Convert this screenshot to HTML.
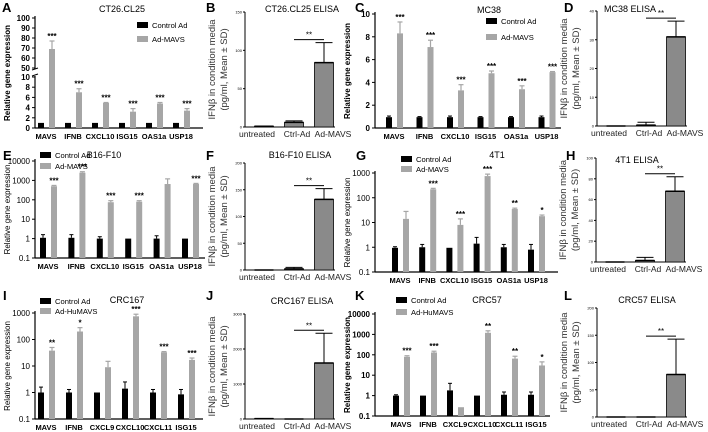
<!DOCTYPE html>
<html><head><meta charset="utf-8"><style>
html,body{margin:0;padding:0;background:#fff}
svg{display:block;font-family:"Liberation Sans",sans-serif}
</style></head><body>
<svg id="fig" width="708" height="432" viewBox="0 0 708 432" xmlns="http://www.w3.org/2000/svg"></svg>
<script>
// ---- data ----
const genesA = ["MAVS","IFNB","CXCL10","ISG15","OAS1a","USP18"];
const ctrlA = [1,1,1,1,1,1];
const ctrlErrA = [1.05,1.05,1.05,1.05,1.05,1.05];
const trtA = [69,7,4.9,3.2,4.8,3.4];
const trtErrA = [77,7.7,5,3.8,5,3.8];
const sigA = ["***","***","***","***","***","***"];

const elisaCats = ["untreated","Ctrl-Ad","Ad-MAVS"];
const elisaB = [1,6,84]; const elisaErrB = [1,8,110];

const ctrlC = [0.95,0.95,0.95,0.95,0.95,0.95];
const ctrlErrC = [1.05,1.0,1.05,1.0,1.0,1.05];
const trtC = [8.3,7.1,3.3,4.8,3.4,4.9];
const trtErrC = [9.3,7.7,3.8,5.0,3.7,4.95];
const sigC = ["***","***","***","***","***","***"];
const elisaD = [0,0.3,31]; const elisaErrD = [0,1.3,36.5];

const ctrlE = [1.1,1.1,1.0,1.0,1.0,1.0];
const ctrlErrE = [1.6,1.6,1.25,1.05,1.4,1.05];
const trtE = [500,2500,75,80,650,650];
const trtErrE = [550,2800,90,90,1200,700];
const sigE = ["***","***","***","***","","***"];
const elisaF = [0,2,132]; const elisaErrF = [0,5,152];

const ctrlG = [0.95,1.0,0.95,1.4,1.0,0.8];
const ctrlErrG = [1.05,1.3,0.95,2.5,1.3,1.3];
const trtG = [14,220,8,750,35,18];
const trtErrG = [28,240,14,900,38,20];
const sigG = ["","***","***","***","**","*"];
const elisaH = [0,1.5,68]; const elisaErrH = [0,4.5,82];

const genesI = ["MAVS","IFNB","CXCL9","CXCL10","CXCL11","ISG15"];
const ctrlI = [1,1,1,1.4,1,0.85];
const ctrlErrI = [1.6,1.3,1,2.5,1.3,1.3];
const trtI = [38,200,9,750,33,17];
const trtErrI = [50,280,15,900,35,20];
const sigI = ["**","*","","***","***","***"];
const elisaJ = [10,0,1600]; const elisaErrJ = [10,0,2450];

const ctrlK = [1,1,1.8,1,1.1,1.1];
const ctrlErrK = [1.1,1,4,1,1.5,1.5];
const trtK = [80,130,0.27,1200,65,30];
const trtErrK = [90,150,0.27,1500,85,45];
const sigK = ["***","***","","**","**","*"];
const elisaL = [0,0,78]; const elisaErrL = [0,0,143];

const linTicksA1 = [0,2,4,6,8,10]; const linTicksA2 = [50,60,70,80,90,100];
const linTicksC = [0,2,4,6,8,10];
const logTicks4 = ["0.1","1","10","100","1000","10000"];
const logTicks3 = ["0.1","1","10","100","1000"];

// ---- helpers ----
const NS="http://www.w3.org/2000/svg";
const svg=document.getElementById('fig');
function mk(tag,attrs,parent,text){const e=document.createElementNS(NS,tag);for(const k in attrs)e.setAttribute(k,attrs[k]);if(text!==undefined)e.textContent=text;(parent||svg).appendChild(e);return e;}
function grp(name){const g=mk('g',{});return g;}

function letter(ch,x,y){const t=mk('text',{x:x,y:y,'font-size':13,'font-weight':'bold'},svg,ch);}

function genePanel(o){
  const g=grp(o.name);
  const yf=o.yf;
  mk('line',{x1:o.ax,y1:o.yTop-2,x2:o.ax,y2:o.yBot,stroke:'#000','stroke-width':1.2},g);
  mk('line',{x1:o.ax,y1:o.yBot,x2:o.xr,y2:o.yBot,stroke:'#000','stroke-width':1.2},g);
  o.ticks.forEach(tv=>{const y=yf(parseFloat(tv));
    mk('line',{x1:o.ax-3,y1:y,x2:o.ax,y2:y,stroke:'#000'},g);
    const t=mk('text',{x:o.ax-5,y:y+3,'font-size':8,'text-anchor':'end','font-weight':o.bold?'bold':'normal'},g,tv);
    });
  const yt=mk('text',{x:0,y:0,'font-size':8,'text-anchor':'middle','font-weight':o.bold?'bold':'normal',transform:`translate(${o.ax-25},${(o.yTop+o.yBot)/2}) rotate(-90)`},g,'Relative gene expression');
  
  o.cats.forEach((c,i)=>{
    const cx=o.c0+i*o.step;
    const bx=cx-5, gx=cx+6, w=6;
    const base=o.yBot;
    const yc=yf(o.ctrl[i]), yce=yf(o.ctrlErr[i]);
    const r1=mk('rect',{x:bx-w/2,y:yc,width:w,height:base-yc,fill:'#000'},g);
    
    if(yce<yc-0.5){mk('line',{x1:bx,y1:yc,x2:bx,y2:yce,stroke:'#000'},g);mk('line',{x1:bx-2,y1:yce,x2:bx+2,y2:yce,stroke:'#000'},g);}
    const yt2=yf(o.trt[i]), yte=yf(o.trtErr[i]);
    const r2=mk('rect',{x:gx-w/2,y:yt2,width:w,height:base-yt2,fill:'#a6a6a6'},g);
    
    if(yte<yt2-0.5){mk('line',{x1:gx,y1:yt2,x2:gx,y2:yte,stroke:'#a6a6a6','stroke-width':1.2},g);mk('line',{x1:gx-2.5,y1:yte,x2:gx+2.5,y2:yte,stroke:'#a6a6a6','stroke-width':1.2},g);}
    if(o.sig[i]){const s=mk('text',{x:gx,y:Math.min(yte,yt2)-2,'font-size':8,'text-anchor':'middle','font-weight':'bold'},g,o.sig[i]);}
    const xl=mk('text',{x:cx,y:o.yBot+11,'font-size':7.5,'text-anchor':'middle','font-weight':'bold'},g,c);
    
  });
  if(o.title){const t=mk('text',{x:o.title[1],y:o.title[2],'font-size':9,'text-anchor':'middle'},g,o.title[0]);}
  const L=o.legend;
  const l1=mk('rect',{x:L[0],y:L[1]-3,width:11,height:6,fill:'#000'},g);
  const t1=mk('text',{x:L[0]+15,y:L[1]+3,'font-size':7.6},g,'Control Ad');
  const l2=mk('rect',{x:L[0],y:L[2]-3,width:11,height:6,fill:'#a6a6a6'},g);
  const t2=mk('text',{x:L[0]+15,y:L[2]+3,'font-size':7.6},g,o.trtName||'Ad-MAVS');
}

function logY(yTop,yBot,decades){return v=>yBot-(Math.log10(Math.max(v,0.1))+1)/decades*(yBot-yTop);}

function elisaPanel(o){
  const g=grp(o.name);
  const yf=v=>o.y0-v/o.max*(o.y0-o.yTop);
  mk('line',{x1:o.ax,y1:o.yTop,x2:o.ax,y2:o.y0,stroke:'#000'},g);
  mk('line',{x1:o.ax,y1:o.y0,x2:o.ax+90,y2:o.y0,stroke:'#000'},g);
  o.ticks.forEach(tv=>{const y=yf(tv);mk('line',{x1:o.ax-2,y1:y,x2:o.ax,y2:y,stroke:'#000'},g);
    const t=mk('text',{x:o.ax-3,y:y+1.5,'font-size':4,'text-anchor':'end'},g,String(tv));});
  const my=(o.yTop+o.y0)/2;
  const a=mk('text',{x:0,y:0,'font-size':9.5,'text-anchor':'middle',fill:'#333',transform:`translate(${o.ax-30},${my}) rotate(-90)`},g,'IFNβ in condition media');
  
  const b=mk('text',{x:0,y:0,'font-size':9.5,'text-anchor':'middle',fill:'#333',transform:`translate(${o.ax-18},${my}) rotate(-90)`},g,'(pg/ml, Mean ± SD)');
  
  const cx=[o.ax+19,o.ax+49,o.ax+79], w=19;
  const lx=[o.ax+12,o.ax+52,o.ax+88];
  elisaCats.forEach((c,i)=>{
    const y=yf(o.vals[i]), ye=yf(o.errs[i]);
    const r=mk('rect',{x:cx[i]-w/2,y:y,width:w,height:o.y0-y,fill:'#8a8a8a',stroke:'#000','stroke-width':0.8},g);
    
    mk('line',{x1:cx[i]-w/2,y1:y,x2:cx[i]+w/2,y2:y,stroke:'#000','stroke-width':1.5},g);
    if(ye<y-0.5){mk('line',{x1:cx[i],y1:y,x2:cx[i],y2:ye,stroke:'#000'},g);mk('line',{x1:cx[i]-w/2+1,y1:ye,x2:cx[i]+w/2-1,y2:ye,stroke:'#000'},g);}
    const t=mk('text',{x:lx[i],y:o.y0+10,'font-size':8.5,'text-anchor':'middle',fill:'#222'},g,c);
    
  });
  const ly=yf(o.errs[2])-3;
  const br=mk('line',{x1:cx[1],y1:ly,x2:cx[2],y2:ly,stroke:'#000'},g);
  const s=mk('text',{x:(cx[1]+cx[2])/2,y:ly-2,'font-size':8,'text-anchor':'middle'},g,'**');
  const tt=mk('text',{x:o.title[1],y:o.title[2],'font-size':9,'text-anchor':'middle'},g,o.title[0]);
}

// ---- panels ----
const yfA=v=>v<=10?128-v/10*51:68-(v-50)/50*50;
genePanel({name:'panel-a-ct26-expression',ax:35,xr:203,yTop:18,yBot:128,yf:yfA,ticks:[...linTicksA1,...linTicksA2].map(String),bold:true,
  cats:genesA,c0:46,step:27,ctrl:ctrlA,ctrlErr:ctrlErrA,trt:trtA,trtErr:trtErrA,sig:sigA,title:['CT26.CL25',122,12],legend:[137,25,39]});
mk('rect',{x:30,y:69,width:10,height:7,fill:'#fff'});
mk('line',{x1:32,y1:70,x2:38,y2:68,stroke:'#000'});mk('line',{x1:32,y1:76,x2:38,y2:74,stroke:'#000'});
elisaPanel({name:'panel-b-ct26-elisa',ax:245,y0:127,yTop:12,max:150,ticks:[0,50,100,150],vals:elisaB,errs:elisaErrB,title:['CT26.CL25  ELISA',302,12]});

genePanel({name:'panel-c-mc38-expression',ax:375,xr:561,yTop:14,yBot:128,yf:v=>128-v/10*114,ticks:linTicksC.map(String),bold:true,
  cats:genesA,c0:394,step:30.5,ctrl:ctrlC,ctrlErr:ctrlErrC,trt:trtC,trtErr:trtErrC,sig:sigC,title:['MC38',489,13],legend:[486,21,37]});
elisaPanel({name:'panel-d-mc38-elisa',ax:597,y0:126,yTop:11,max:40,ticks:[0,10,20,30,40],vals:elisaD,errs:elisaErrD,title:['MC38  ELISA',630,12]});

genePanel({name:'panel-e-b16-expression',ax:35,xr:205,yTop:161,yBot:258,yf:logY(161,258,5),ticks:logTicks4,bold:false,
  cats:genesA,c0:48,step:28.4,ctrl:ctrlE,ctrlErr:ctrlErrE,trt:trtE,trtErr:trtErrE,sig:sigE,title:['B16-F10',104,158],legend:[40,155,166]});
elisaPanel({name:'panel-f-b16-elisa',ax:245,y0:270,yTop:163,max:200,ticks:[0,50,100,150,200],vals:elisaF,errs:elisaErrF,title:['B16-F10  ELISA',300,158]});

genePanel({name:'panel-g-4t1-expression',ax:375,xr:558,yTop:173,yBot:272,yf:logY(173,272,4),ticks:logTicks3,bold:false,
  cats:genesA,c0:400,step:27.2,ctrl:ctrlG,ctrlErr:ctrlErrG,trt:trtG,trtErr:trtErrG,sig:sigG,title:['4T1',497,158],legend:[401,159,169]});
elisaPanel({name:'panel-h-4t1-elisa',ax:596,y0:262,yTop:158,max:100,ticks:[0,20,40,60,80,100],vals:elisaH,errs:elisaErrH,title:['4T1  ELISA',637,163]});

genePanel({name:'panel-i-crc167-expression',ax:35,xr:203,yTop:313,yBot:419,yf:logY(313,419,4),ticks:logTicks3,bold:false,
  cats:genesI,c0:46,step:28,ctrl:ctrlI,ctrlErr:ctrlErrI,trt:trtI,trtErr:trtErrI,sig:sigI,title:['CRC167',127,303],legend:[40,301,311],trtName:'Ad-HuMAVS'});
elisaPanel({name:'panel-j-crc167-elisa',ax:245,y0:419,yTop:314,max:3000,ticks:[0,1000,2000,3000],vals:elisaJ,errs:elisaErrJ,title:['CRC167 ELISA',302,304]});

genePanel({name:'panel-k-crc57-expression',ax:375,xr:550,yTop:314,yBot:416,yf:logY(314,416,5),ticks:logTicks4,bold:true,
  cats:genesI,c0:401,step:27,ctrl:ctrlK,ctrlErr:ctrlErrK,trt:trtK,trtErr:trtErrK,sig:sigK,title:['CRC57',487,303],legend:[396,300,312],trtName:'Ad-HuMAVS'});
elisaPanel({name:'panel-l-crc57-elisa',ax:597,y0:417,yTop:308,max:200,ticks:[0,50,100,150,200],vals:elisaL,errs:elisaErrL,title:['CRC57 ELISA',647,303]});

[['A',2,12],['B',206,12],['C',355,12],['D',564,12],['E',3,160],['F',206,160],['G',356,160],['H',566,160],['I',3,300],['J',206,300],['K',355,300],['L',564,300]].forEach(l=>letter(...l));
</script>
</body></html>
